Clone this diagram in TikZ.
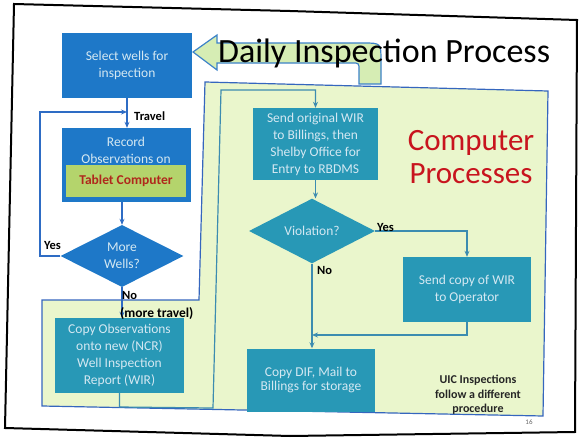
\documentclass[tikz,border=0pt]{standalone}
\usepackage{fontspec}
\setmainfont{Carlito}
\usetikzlibrary{shapes.geometric,arrows.meta,calc}
\definecolor{boxblue}{HTML}{1E78C8}
\definecolor{boxteal}{HTML}{2898B6}
\definecolor{paletxt}{HTML}{D4E8F2}
\definecolor{regfill}{HTML}{EAF6CC}
\definecolor{regline}{HTML}{3566BE}
\definecolor{lineblue}{HTML}{2E6CC4}
\definecolor{lineteal}{HTML}{3C8CB0}
\definecolor{tabgreen}{HTML}{B4D46C}
\definecolor{tabred}{HTML}{B0281C}
\definecolor{cpred}{HTML}{C8141E}
\definecolor{arrfill}{HTML}{D6EDB4}
\definecolor{arrline}{HTML}{3C82C8}
\begin{document}
\begin{tikzpicture}[x=1pt,y=-1pt,
  boxtxt/.style={font=\fontsize{13.5}{17}\selectfont, text=paletxt, align=center},
  bbox/.style={rectangle, fill=boxblue, inner sep=0pt, boxtxt},
  tbox/.style={rectangle, fill=boxteal, inner sep=0pt, boxtxt},
  dia/.style={diamond, inner sep=0pt, boxtxt},
  lab/.style={font=\bfseries\fontsize{12.5}{14}\selectfont, inner sep=0pt},
  flowb/.style={draw=lineblue, line width=1.2pt, -{Stealth[length=6pt,width=5pt]}},
  flowt/.style={draw=lineteal, line width=1.2pt, -{Stealth[length=6pt,width=5pt]}},
  ]
\useasboundingbox (0,0) rectangle (579,447);
% slide frame
\draw[line width=2pt] (14,4) -- (290,11) -- (577,20) -- (575,432) -- (290,436) -- (5,428) -- cycle;
% green region
\draw[fill=regfill, draw=regline, line width=1.2pt] (42,300) -- (199,300) -- (205,82) -- (548,91) -- (543,416) -- (42,406) -- cycle;
% big arrow
\draw[fill=arrfill, draw=arrline, line width=1.2pt] (193,52) -- (217,35) -- (217,43) -- (363,43) .. controls (381,43) .. (381,61) -- (381,84) -- (359,84) -- (359,70) .. controls (359,63) .. (352,63) -- (217,63) -- (217,70) -- cycle;
\node[anchor=base west, inner sep=0pt, font=\fontsize{34}{40}\selectfont] (title) at (218,62) {Daily Inspection Process};
\node[anchor=base, inner sep=0pt, text=cpred, font=\fontsize{31}{33}\selectfont] (cp1) at (471,150) {Computer};
\node[anchor=base, inner sep=0pt, text=cpred, font=\fontsize{31}{33}\selectfont] (cp2) at (471,183) {Processes};
% boxes
\node[bbox, minimum width=130, minimum height=65] (sel) at (127,65.5) {Select wells for\\inspection};
\node[bbox, minimum width=129, minimum height=74] (rec) at (126,165) {};
\node[boxtxt, inner sep=0pt] (rectxt) at (126,150) {Record\\Observations on};
\node[rectangle, fill=tabgreen, minimum width=120, minimum height=32, inner sep=0pt, text=tabred, font=\bfseries\fontsize{13.5}{16}\selectfont] (tab) at (126,181) {Tablet Computer};
\node[dia, fill=boxblue, minimum width=123, minimum height=62] (more) at (122,256) {More\\Wells?};
\node[tbox, minimum width=129, minimum height=75] (obs) at (119.5,355.5) {Copy Observations\\onto new (NCR)\\Well Inspection\\Report (WIR)};
\node[tbox, minimum width=125, minimum height=72] (send) at (315.5,144) {Send original WIR\\to Billings, then\\Shelby Office for\\Entry to RBDMS};
\node[dia, fill=boxteal, minimum width=126, minimum height=60] (viol) at (312,231) {Violation?};
\node[tbox, minimum width=128, minimum height=65] (scopy) at (467,289.5) {Send copy of WIR\\to Operator};
\node[tbox, minimum width=128, minimum height=63, font=\fontsize{13.5}{14}\selectfont] (cdif) at (311,380) {Copy DIF, Mail to\\Billings for storage};
\node[inner sep=0pt, align=center, text=black!85, font=\bfseries\fontsize{12}{14.5}\selectfont] (uic) at (478,395) {UIC Inspections\\follow a different\\procedure};
\node[inner sep=0pt, text=black!60, font=\fontsize{7}{8}\selectfont] (pg) at (529,422) {16};
% coordinates for connector bends
\coordinate (yc) at (40,112);
\coordinate (b1) at (119.5,407);
\coordinate (b2) at (213,408);
\coordinate (b3) at (221,90);
\coordinate (jn) at (312,335);
% left connectors
\draw[flowb] (sel.south) -- (sel.south |- rec.north);
\draw[flowb] (more.west) -| (yc) -- (yc -| sel.south);
\draw[flowb] (rec.south -| more.north) -- (more.north);
\draw[flowb] (more.south) -- (more.south |- obs.north);
% right connectors
\draw[flowt] (obs.south) -- (b1) -- (b2) -- (b3) -- (b3 -| send.north) -- (send.north);
\draw[flowt] (send.south) -- (send.south |- viol.north);
\draw[flowt] (viol.east) -| (scopy.north);
\draw[flowt] (viol.south) -- (viol.south |- cdif.north);
\draw[flowt] (scopy.south) |- (jn);
% labels
\node[lab, anchor=base west] (ltravel) at (134,120) {Travel};
\node[lab, anchor=base west] (lyes1) at (44,249) {Yes};
\node[lab, anchor=base west] (lno1) at (122,299) {No};
\node[lab, anchor=base west, font=\bfseries\fontsize{13.5}{15}\selectfont] (lmore) at (120,317) {(more travel)};
\node[lab, anchor=base west] (lyes2) at (377,231) {Yes};
\node[lab, anchor=base west] (lno2) at (317,274) {No};
\end{tikzpicture}
\end{document}
